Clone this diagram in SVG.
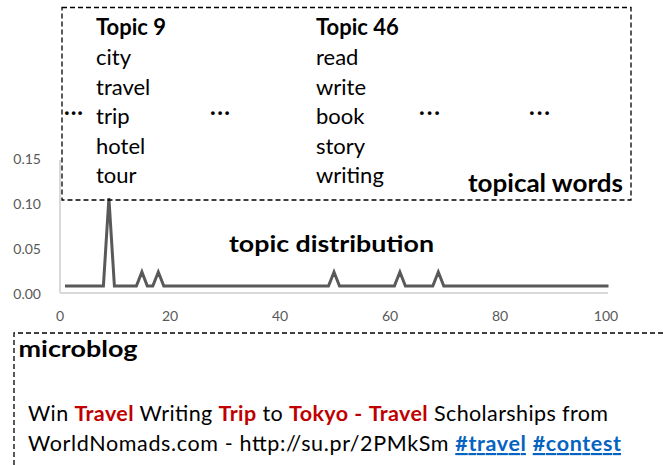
<svg xmlns="http://www.w3.org/2000/svg" width="663" height="465" viewBox="0 0 663 465">
<style>
text{font-family:Lato,"Open Sans","Liberation Sans",sans-serif;}
.w{font-size:22px;fill:#000;}
.b{font-weight:bold;}
.dots{font-size:24px;font-weight:bold;fill:#000;}
.ax{font-size:14px;fill:#595959;}
.dash{fill:none;stroke:#000;stroke-width:1.3;stroke-dasharray:5 3;}
.red{fill:#c00000;font-weight:bold;}
.lnk{fill:#0563c1;font-weight:bold;text-decoration:underline;}
</style>
<g id="chart">
  <line x1="60" y1="160" x2="60" y2="293" stroke="#d9d9d9" stroke-width="2"/>
  <line x1="60" y1="293" x2="608" y2="293" stroke="#d9d9d9" stroke-width="2"/>
  <g class="ax" text-anchor="end">
    <text x="41" y="164">0.15</text>
    <text x="41" y="209">0.10</text>
    <text x="41" y="254">0.05</text>
    <text x="41" y="299">0.00</text>
  </g>
  <g class="ax" text-anchor="middle">
    <text x="60" y="321">0</text>
    <text x="170" y="321">20</text>
    <text x="280" y="321">40</text>
    <text x="390" y="321">60</text>
    <text x="500" y="321">80</text>
    <text x="606" y="321">100</text>
  </g>
  <polyline fill="none" stroke="#595959" stroke-width="3" stroke-linejoin="miter" points="65,286 103.4,286 108.9,198 114.4,286 136.4,286 141.9,272 147.3,286 152.8,286 158.3,272 163.8,286 328.5,286 334,272 339.5,286 394.4,286 399.9,272 405.4,286 432.8,286 438.3,272 443.8,286 608.5,286"/>
  <text x="229" y="252" class="b" font-size="23" textLength="205" lengthAdjust="spacingAndGlyphs">topic distribution</text>
</g>
<g id="topical-words">
  <rect class="dash" x="62" y="7.5" width="569" height="192.5"/>
  <text class="w b" x="96" y="35">Topic 9</text>
  <text class="w" x="96" y="65">city</text>
  <text class="w" x="96" y="94.5">travel</text>
  <text class="w" x="96" y="124">trip</text>
  <text class="w" x="96" y="153.5">hotel</text>
  <text class="w" x="96" y="183">tour</text>
  <text class="w b" x="316" y="35">Topic 46</text>
  <text class="w" x="316" y="65">read</text>
  <text class="w" x="316" y="94.5">write</text>
  <text class="w" x="316" y="124">book</text>
  <text class="w" x="316" y="153.5">story</text>
  <text class="w" x="316" y="183">writing</text>
  <text class="dots" x="64" y="115" textLength="19">...</text>
  <text class="dots" x="210" y="115" textLength="20">...</text>
  <text class="dots" x="419" y="115" textLength="21">...</text>
  <text class="dots" x="529" y="115" textLength="21">...</text>
  <text x="468" y="192" class="b" font-size="24" textLength="155" lengthAdjust="spacingAndGlyphs">topical words</text>
</g>
<g id="microblog">
  <path class="dash" d="M663,333 H14 V465"/>
  <text x="18.5" y="357" class="b" font-size="22" textLength="119" lengthAdjust="spacingAndGlyphs">microblog</text>
  <text x="28" y="421" font-size="21.5" textLength="580" lengthAdjust="spacing">Win <tspan class="red">Travel</tspan> Writing <tspan class="red">Trip</tspan> to <tspan class="red">Tokyo</tspan> <tspan class="red">-</tspan> <tspan class="red">Travel</tspan> Scholarships from</text>
  <text x="28" y="451" font-size="21.5" textLength="593" lengthAdjust="spacing">WorldNomads.com - http://su.pr/2PMkSm <tspan class="lnk">#travel</tspan> <tspan class="lnk">#contest</tspan></text>
</g>
</svg>
